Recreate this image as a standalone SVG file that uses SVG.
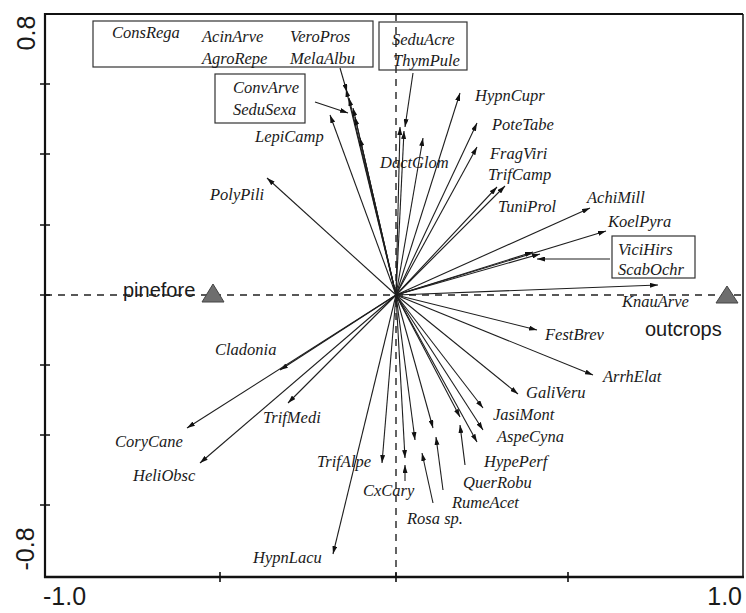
<svg xmlns="http://www.w3.org/2000/svg" width="746" height="613" viewBox="0 0 746 613">
<style>
.lab{font-family:"Liberation Serif","Times New Roman",serif;font-style:italic;font-size:16.5px;fill:#1a1a1a}
.ax{font-family:"Liberation Sans",Arial,sans-serif;font-size:25px;fill:#1a1a1a}
.site{font-family:"Liberation Sans",Arial,sans-serif;font-size:20px;fill:#1a1a1a}
.sp{stroke:#1e1e1e;stroke-width:1.1;fill:none;marker-end:url(#ah)}
.pt{stroke:#1e1e1e;stroke-width:1.1;fill:none;marker-end:url(#ah)}
.box{fill:none;stroke:#333;stroke-width:1.2}
.dash{stroke:#222;stroke-width:1.4;stroke-dasharray:7,6;fill:none}
.frame{stroke:#111;fill:none}
.tri{fill:#6e6e6e;stroke:#444;stroke-width:1}
</style>
<defs>
<marker id="ah" viewBox="0 0 8 5" refX="8" refY="2.5" markerWidth="8" markerHeight="5" markerUnits="userSpaceOnUse" orient="auto">
<path d="M0,0 L8,2.5 L0,5 z" fill="#111"/>
</marker>
</defs>
<rect width="746" height="613" fill="#fff"/>
<g id="axes">
<line class="dash" x1="45" y1="295" x2="743" y2="295"/>
<line class="dash" x1="396" y1="14" x2="396" y2="577"/>
<line class="frame" x1="45" y1="14" x2="743" y2="14" stroke-width="2"/>
<line class="frame" x1="743" y1="14" x2="743" y2="577" stroke-width="1.5"/>
<line class="frame" x1="45" y1="13" x2="45" y2="578" stroke-width="2.2"/>
<line class="frame" x1="44" y1="577" x2="744" y2="577" stroke-width="2.6"/>
<path class="frame" stroke-width="1.6" d="M40,84H50M40,154H50M40,225H50M40,295H50M40,365H50M40,435H50M40,505H50M220,572V582M396,572V582M568,572V582"/>
<text class="ax" transform="translate(35,33) rotate(-90)" text-anchor="middle">0.8</text>
<text class="ax" transform="translate(34,549) rotate(-90)" text-anchor="middle">-0.8</text>
<text class="ax" x="43" y="605">-1.0</text>
<text class="ax" x="742" y="605" text-anchor="end">1.0</text>
</g>
<g id="connectors">
<line class="sp" x1="396" y1="295" x2="346" y2="89"/>
<line class="sp" x1="396" y1="295" x2="349" y2="98"/>
<line class="sp" x1="396" y1="295" x2="353" y2="108"/>
<line class="sp" x1="396" y1="295" x2="355" y2="117"/>
<line class="sp" x1="396" y1="295" x2="360" y2="138"/>
<line class="sp" x1="396" y1="295" x2="330" y2="115"/>
<line class="sp" x1="396" y1="295" x2="267" y2="178"/>
<line class="sp" x1="396" y1="295" x2="400" y2="127"/>
<line class="sp" x1="396" y1="295" x2="404" y2="131"/>
<line class="sp" x1="396" y1="295" x2="423" y2="138"/>
<line class="sp" x1="396" y1="295" x2="460" y2="93"/>
<line class="sp" x1="396" y1="295" x2="477" y2="123"/>
<line class="sp" x1="396" y1="295" x2="477" y2="147"/>
<line class="sp" x1="396" y1="295" x2="497" y2="187"/>
<line class="sp" x1="396" y1="295" x2="505" y2="186"/>
<line class="sp" x1="396" y1="295" x2="590" y2="208"/>
<line class="sp" x1="396" y1="295" x2="606" y2="231"/>
<line class="sp" x1="396" y1="295" x2="533" y2="252"/>
<line class="sp" x1="396" y1="295" x2="540" y2="254"/>
<line class="sp" x1="396" y1="295" x2="658" y2="285"/>
<line class="sp" x1="396" y1="295" x2="537" y2="330"/>
<line class="sp" x1="396" y1="295" x2="593" y2="375"/>
<line class="sp" x1="396" y1="295" x2="518" y2="394"/>
<line class="sp" x1="396" y1="295" x2="483" y2="408"/>
<line class="sp" x1="396" y1="295" x2="483" y2="430"/>
<line class="sp" x1="396" y1="295" x2="477" y2="442"/>
<line class="sp" x1="396" y1="295" x2="460" y2="417"/>
<line class="sp" x1="396" y1="295" x2="433" y2="428"/>
<line class="sp" x1="396" y1="295" x2="415" y2="440"/>
<line class="sp" x1="396" y1="295" x2="405" y2="458"/>
<line class="sp" x1="396" y1="295" x2="382" y2="463"/>
<line class="sp" x1="396" y1="295" x2="333" y2="554"/>
<line class="sp" x1="396" y1="295" x2="288" y2="403"/>
<line class="sp" x1="396" y1="295" x2="280" y2="370"/>
<line class="sp" x1="396" y1="295" x2="187" y2="428"/>
<line class="sp" x1="396" y1="295" x2="200" y2="463"/>
<line class="pt" x1="340" y1="68" x2="347" y2="92"/>
<line class="pt" x1="315" y1="102" x2="348" y2="113"/>
<line class="pt" x1="413" y1="73" x2="405" y2="127"/>
<line class="pt" x1="610" y1="259" x2="537" y2="259"/>
<line class="pt" x1="405" y1="481" x2="405" y2="465"/>
<line class="pt" x1="465" y1="465" x2="460" y2="425"/>
<line class="pt" x1="443" y1="490" x2="436" y2="437"/>
<line class="pt" x1="433" y1="503" x2="422" y2="453"/>
</g>
<g id="box-top-left">
<rect class="box" x="93" y="21" width="280" height="46"/>
<text class="lab" x="112" y="38">ConsRega</text>
<text class="lab" x="202" y="42">AcinArve</text>
<text class="lab" x="290" y="42">VeroPros</text>
<text class="lab" x="202" y="64">AgroRepe</text>
<text class="lab" x="290" y="64">MelaAlbu</text>
</g>
<g id="box-top-mid">
<rect class="box" x="379" y="22" width="88" height="48"/>
<text class="lab" x="392" y="45">SeduAcre</text>
<text class="lab" x="393" y="66">ThymPule</text>
</g>
<g id="box-conv">
<rect class="box" x="215" y="74" width="90" height="49"/>
<text class="lab" x="233" y="93">ConvArve</text>
<text class="lab" x="233" y="115">SeduSexa</text>
</g>
<g id="box-vici">
<rect class="box" x="612" y="236" width="83" height="42"/>
<text class="lab" x="618" y="255">ViciHirs</text>
<text class="lab" x="618" y="275">ScabOchr</text>
</g>
<g id="n-LepiCamp"><text class="lab" x="255" y="142">LepiCamp</text></g>
<g id="n-PolyPili"><text class="lab" x="210" y="200">PolyPili</text></g>
<g id="n-DactGlom"><text class="lab" x="380" y="168">DactGlom</text></g>
<g id="n-HypnCupr"><text class="lab" x="475" y="101">HypnCupr</text></g>
<g id="n-PoteTabe"><text class="lab" x="492" y="130">PoteTabe</text></g>
<g id="n-FragViri"><text class="lab" x="490" y="159">FragViri</text></g>
<g id="n-TrifCamp"><text class="lab" x="488" y="180">TrifCamp</text></g>
<g id="n-TuniProl"><text class="lab" x="498" y="212">TuniProl</text></g>
<g id="n-AchiMill"><text class="lab" x="587" y="203">AchiMill</text></g>
<g id="n-KoelPyra"><text class="lab" x="608" y="227">KoelPyra</text></g>
<g id="n-KnauArve"><text class="lab" x="622" y="307">KnauArve</text></g>
<g id="n-FestBrev"><text class="lab" x="545" y="340">FestBrev</text></g>
<g id="n-ArrhElat"><text class="lab" x="603" y="382">ArrhElat</text></g>
<g id="n-GaliVeru"><text class="lab" x="526" y="398">GaliVeru</text></g>
<g id="n-JasiMont"><text class="lab" x="493" y="420">JasiMont</text></g>
<g id="n-AspeCyna"><text class="lab" x="497" y="442">AspeCyna</text></g>
<g id="n-HypePerf"><text class="lab" x="484" y="467">HypePerf</text></g>
<g id="n-QuerRobu"><text class="lab" x="463" y="488">QuerRobu</text></g>
<g id="n-RumeAcet"><text class="lab" x="452" y="508">RumeAcet</text></g>
<g id="n-Rosa"><text class="lab" x="407" y="524">Rosa sp.</text></g>
<g id="n-CxCary"><text class="lab" x="363" y="496">CxCary</text></g>
<g id="n-TrifAlpe"><text class="lab" x="317" y="467">TrifAlpe</text></g>
<g id="n-HypnLacu"><text class="lab" x="253" y="563">HypnLacu</text></g>
<g id="n-Cladonia"><text class="lab" x="215" y="355">Cladonia</text></g>
<g id="n-TrifMedi"><text class="lab" x="263" y="423">TrifMedi</text></g>
<g id="n-CoryCane"><text class="lab" x="115" y="447">CoryCane</text></g>
<g id="n-HeliObsc"><text class="lab" x="133" y="481">HeliObsc</text></g>
<g id="site-pinefore">
<polygon class="tri" points="213,284 224,302 202,302"/>
<text class="site" x="123" y="297">pinefore</text>
</g>
<g id="site-outcrops">
<polygon class="tri" points="727,286 738,303 716,303"/>
<text class="site" x="645" y="336">outcrops</text>
</g>
</svg>
